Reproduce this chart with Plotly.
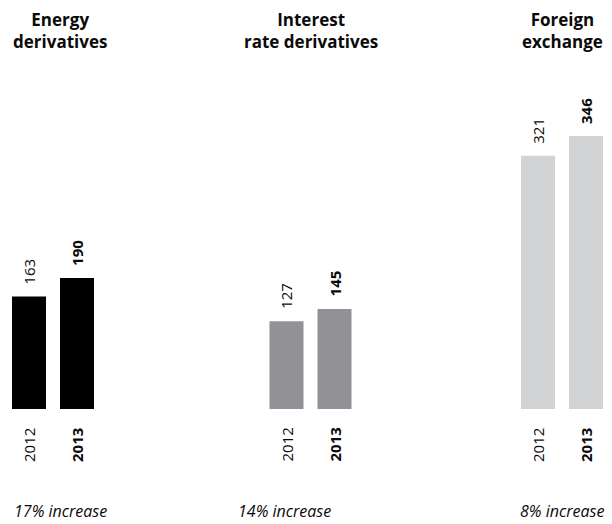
import plotly.graph_objects as go

# Data
groups = ["Energy<br>derivatives", "Interest<br>rate derivatives", "Foreign<br>exchange"]
years = ["2012", "2013"]
energy = [163, 190]
interest_rate = [127, 145]
foreign_exchange = [321, 346]
captions = ["17% increase", "14% increase", "8% increase"]

series = [energy, interest_rate, foreign_exchange]
colors = ["#000000", "#929296", "#d2d3d5"]

W, H = 612, 524
FONT = "Open Sans"
TEXT = "#0a0a0a"

# Panel layout (pixels)
x_domains_px = [(5, 101), (262.5, 358.5), (514, 610)]
title_cx = [60, 311, 562]
caption_cx = [60, 284, 562]
plot_top_px, plot_bottom_px = 60, 409
px_per_unit = [0.69, 0.69, 0.789]

def fx(px):
    return px / W

def fy(px):
    return (H - px) / H

fig = go.Figure()
annotations = []

for i, (vals, col) in enumerate(zip(series, colors)):
    suffix = "" if i == 0 else str(i + 1)
    xa, ya = "x" + suffix, "y" + suffix
    fig.add_trace(go.Bar(
        x=years, y=vals, marker=dict(color=col, line=dict(width=0)),
        xaxis=xa, yaxis=ya, hoverinfo="skip", showlegend=False,
    ))
    d0, d1 = x_domains_px[i]
    yr_max = (plot_bottom_px - plot_top_px) / px_per_unit[i]
    fig.update_layout(**{
        "xaxis" + suffix: dict(type="category", domain=[fx(d0), fx(d1)],
                               visible=False, range=[-0.5, 1.5], fixedrange=True),
        "yaxis" + suffix: dict(domain=[fy(plot_bottom_px), fy(plot_top_px)],
                               visible=False, range=[0, yr_max], fixedrange=True),
    })

    # value labels above bars, years below
    for j, (yr, v) in enumerate(zip(years, vals)):
        bold = j == 1
        annotations.append(dict(
            x=j, y=v, xref=xa, yref=ya, text=f"<b>{v}</b>" if bold else str(v),
            textangle=-90, showarrow=False, yanchor="bottom", yshift=10,
            font=dict(family=FONT, size=15, color=TEXT),
        ))
        annotations.append(dict(
            x=j, y=fy(445), xref=xa, yref="paper",
            text=f"<b>{yr}</b>" if bold else yr,
            textangle=-90, showarrow=False, yanchor="middle",
            font=dict(family=FONT, size=15, color=TEXT),
        ))

    # group heading and caption
    annotations.append(dict(
        x=fx(title_cx[i]), y=fy(6), xref="paper", yref="paper",
        text=f"<b>{groups[i]}</b>", showarrow=False, xanchor="center",
        yanchor="top", font=dict(family=FONT, size=17, color=TEXT),
    ))
    annotations.append(dict(
        x=fx(caption_cx[i]), y=0, xref="paper", yref="paper",
        text=f"<i>{captions[i]}</i>", showarrow=False, xanchor="center",
        yanchor="bottom", font=dict(family=FONT, size=16, color=TEXT),
    ))

fig.update_layout(
    width=W, height=H, margin=dict(l=0, r=0, t=0, b=0),
    paper_bgcolor="white", plot_bgcolor="rgba(0,0,0,0)",
    bargap=1 - 34 / 48, annotations=annotations,
)

fig.write_html("out.html", config={"displayModeBar": False})
